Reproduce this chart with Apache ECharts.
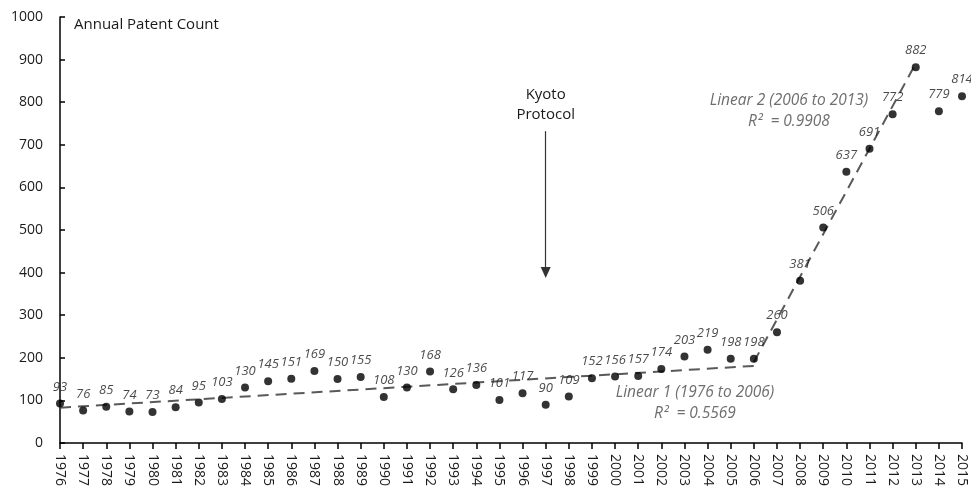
<!DOCTYPE html>
<html><head><meta charset="utf-8">
<script src="https://cdn.jsdelivr.net/npm/echarts@6/dist/echarts.min.js"></script>
<style>html,body{margin:0;padding:0;background:#fff}#c{width:971px;height:490px}</style>
</head><body><div id="c"></div>
<script>
const years = ['1976','1977','1978','1979','1980','1981','1982','1983','1984','1985','1986','1987','1988','1989','1990','1991','1992','1993','1994','1995','1996','1997','1998','1999','2000','2001','2002','2003','2004','2005','2006','2007','2008','2009','2010','2011','2012','2013','2014','2015'];
const patents = [93,76,85,74,73,84,95,103,130,145,151,169,150,155,108,130,168,126,136,101,117,90,109,152,156,157,174,203,219,198,198,260,381,506,637,691,772,882,779,814];
const trend1 = [['1976',83],['2006',181]];
const trend2 = [['2006',190],['2013',891]];
const yTicks = {min:0, max:1000, interval:100};
const kyoto = {year:'1997', from:732, to:400};

const chart = echarts.init(document.getElementById('c'));
const F = '"Open Sans", Lato, sans-serif';
chart.setOption({
  animation:false,
  grid:{left:60,right:9,top:17,bottom:47},
  xAxis:{type:'category',data:years,boundaryGap:false,
    axisLine:{lineStyle:{color:'#000',width:1.5}},
    axisTick:{show:true,length:6,lineStyle:{color:'#000',width:1.5},alignWithLabel:true},
    axisLabel:{rotate:-90,interval:0,color:'#1a1a1a',fontFamily:F,fontSize:14,margin:11},
    splitLine:{show:false}},
  yAxis:{type:'value',min:yTicks.min,max:yTicks.max,interval:yTicks.interval,
    name:'Annual Patent Count',nameLocation:'end',nameGap:-8,
    nameTextStyle:{align:'left',verticalAlign:'middle',padding:[0,0,0,14],color:'#1a1a1a',fontFamily:F,fontSize:15},
    axisLine:{show:true,lineStyle:{color:'#000',width:1.5}},
    axisTick:{show:true,inside:true,length:5,lineStyle:{color:'#000',width:1.5}},
    axisLabel:{color:'#1a1a1a',fontFamily:F,fontSize:14,margin:17,formatter:function(v){return String(v);}},
    splitLine:{show:false}},
  series:[
    {type:'line',data:trend1,symbol:'none',lineStyle:{color:'#595959',width:2,type:[11,7]},z:1,silent:true},
    {type:'line',data:trend2,symbol:'none',lineStyle:{color:'#595959',width:2,type:[11,7]},z:1,silent:true},
    {type:'scatter',data:patents,symbol:'circle',symbolSize:8,itemStyle:{color:'#000'},z:3,
      label:{show:true,position:'top',distance:6,color:'#1a1a1a',fontFamily:F,fontSize:13,fontStyle:'italic'},
      markLine:{silent:true,symbol:['none','triangle'],symbolSize:[10,11],
        lineStyle:{color:'#333',width:1.2,type:'solid'},
        label:{show:true,position:'start',formatter:'Kyoto\nProtocol',color:'#1a1a1a',fontFamily:F,fontSize:15,lineHeight:20,distance:6},
        data:[[{coord:[kyoto.year,kyoto.from]},{coord:[kyoto.year,kyoto.to]}]]}
    }
  ],
  graphic:[
    {type:'text',x:695,y:382,style:{text:'Linear 1 (1976 to 2006)\nR²  = 0.5569',x:0,y:0,fill:'#6e6e6e',font:'italic 15.5px '+F,textAlign:'center',lineHeight:21}},
    {type:'text',x:789,y:90,style:{text:'Linear 2 (2006 to 2013)\nR²  = 0.9908',x:0,y:0,fill:'#6e6e6e',font:'italic 15.5px '+F,textAlign:'center',lineHeight:21}}
  ]
});
</script></body></html>
